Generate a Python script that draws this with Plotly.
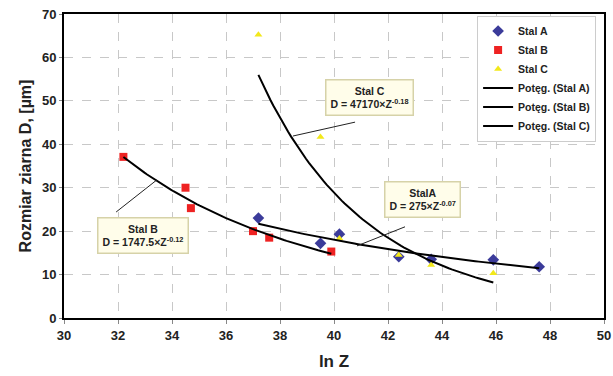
import numpy as np
import plotly.graph_objects as go

# Data
a_x = [37.2, 39.5, 40.2, 42.4, 43.6, 45.9, 47.6]
a_y = [23.0, 17.2, 19.3, 14.1, 13.5, 13.4, 11.8]
b_x = [32.2, 34.5, 34.7, 37.0, 37.6, 39.9]
b_y = [37.1, 30.0, 25.3, 20.0, 18.5, 15.3]
c_x = [37.2, 39.5, 40.2, 42.4, 43.6, 45.9]
c_y = [65.2, 41.7, 18.3, 14.5, 12.2, 10.3]

x_ticks = [30, 32, 34, 36, 38, 40, 42, 44, 46, 48, 50]
y_ticks = [0, 10, 20, 30, 40, 50, 60, 70]

FONT = "Liberation Sans, Arial, sans-serif"


def power_fit(xs, ys, n=80):
    lx, ly = np.log(xs), np.log(ys)
    b, ln_a = np.polyfit(lx, ly, 1)
    xx = np.linspace(min(xs), max(xs), n)
    return xx, np.exp(ln_a) * xx ** b


fig = go.Figure()
fig.add_trace(go.Scatter(x=a_x, y=a_y, mode="markers", name="Stal A",
                         marker=dict(symbol="diamond", size=9, color="#3b3b9a")))
fig.add_trace(go.Scatter(x=b_x, y=b_y, mode="markers", name="Stal B",
                         marker=dict(symbol="square", size=8, color="#ee2222")))
fig.add_trace(go.Scatter(x=c_x, y=c_y, mode="markers", name="Stal C",
                         marker=dict(symbol="triangle-up", size=7, color="#f2e81a")))
for nm, xs, ys in [("Potęg. (Stal A)", a_x, a_y), ("Potęg. (Stal B)", b_x, b_y),
                   ("Potęg. (Stal C)", c_x, c_y)]:
    fx, fy = power_fit(xs, ys)
    fig.add_trace(go.Scatter(x=fx, y=fy, mode="lines", name=nm,
                             line=dict(color="black", width=2)))

# connector lines from label boxes to the curves
connectors = [((40.78, 45.1), (38.48, 41.9)),
              ((31.93, 24.4), (33.44, 31.8)),
              ((42.63, 21.0), (40.85, 16.6))]
for (x0, y0), (x1, y1) in connectors:
    fig.add_shape(type="line", x0=x0, y0=y0, x1=x1, y1=y1, xref="x", yref="y",
                  line=dict(color="#222", width=1))

boxes = [
    (41.33, 50.8, "Stal C<br>D = 47170×Z<sup>-0.18</sup>"),
    (32.91, 19.1, "Stal B<br>D = 1747.5×Z<sup>-0.12</sup>"),
    (43.28, 27.3, "StalA<br>D = 275×Z<sup>-0.07</sup>"),
]
for x, y, t in boxes:
    fig.add_annotation(x=x, y=y, xref="x", yref="y", text=t,
                       showarrow=False, align="center",
                       font=dict(family=FONT, size=10.5, color="#222", weight="bold"),
                       bgcolor="#fffdea", bordercolor="#d6d2a8", borderwidth=1.5,
                       borderpad=4)

fig.update_layout(
    width=613, height=376,
    margin=dict(l=64, r=9, t=14, b=58, autoexpand=False),
    paper_bgcolor="white", plot_bgcolor="white",
    font=dict(family=FONT, size=13, color="#222", weight="bold"),
    showlegend=True,
    legend=dict(x=0.765, y=0.995, xanchor="left", yanchor="top",
                bgcolor="white", bordercolor="#cccccc", borderwidth=1,
                font=dict(family=FONT, size=10.5, color="#222", weight="bold"),
                tracegroupgap=0, itemwidth=30),
)
fig.update_xaxes(range=[30, 50], tickvals=x_ticks,
                 showgrid=True, gridcolor="#c8c8c8", griddash="dash", gridwidth=1,
                 showline=True, linecolor="black", linewidth=2, mirror=True,
                 ticks="outside", ticklen=4, tickcolor="#888", zeroline=False,
                 title=dict(text="ln Z", font=dict(family=FONT, size=17, weight="bold"), standoff=14),
                 tickfont=dict(family=FONT, size=13, weight="bold"))
fig.update_yaxes(range=[0, 70], tickvals=y_ticks,
                 showgrid=True, gridcolor="#c8c8c8", griddash="dash", gridwidth=1,
                 showline=True, linecolor="black", linewidth=2, mirror=True,
                 ticks="outside", ticklen=3, tickcolor="#888", zeroline=False,
                 title=dict(text="Rozmiar ziarna D, [µm]", font=dict(family=FONT, size=16, weight="bold"), standoff=6),
                 tickfont=dict(family=FONT, size=13, weight="bold"))

fig.write_html("out.html")
